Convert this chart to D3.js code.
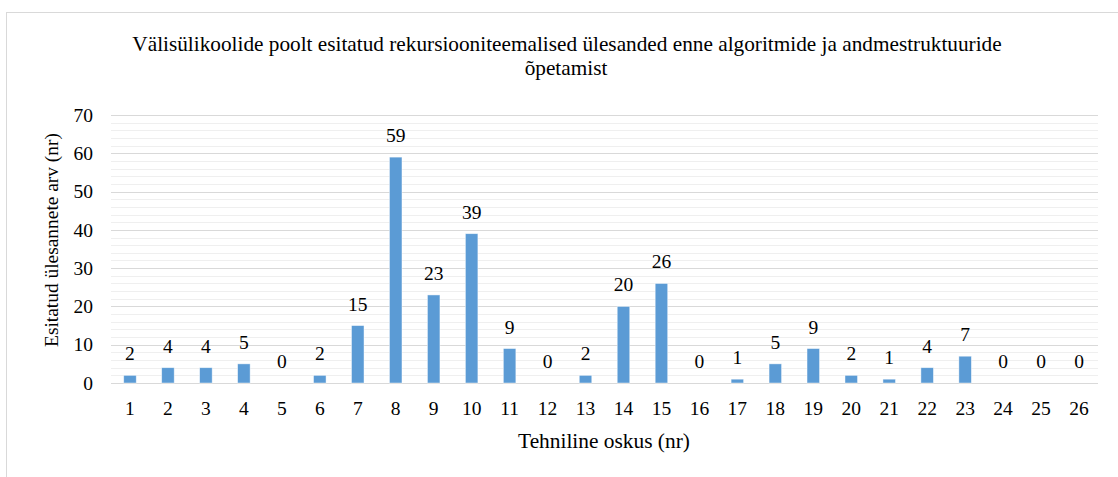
<!DOCTYPE html>
<html><head><meta charset="utf-8">
<script src="https://cdn.jsdelivr.net/npm/d3@7"></script>
<style>body{margin:0;background:#fff}svg{display:block}</style>
</head><body><div id="chart"></div>
<script>
const categories = ["1","2","3","4","5","6","7","8","9","10","11","12","13","14","15","16","17","18","19","20","21","22","23","24","25","26"];
const values = [2,4,4,5,0,2,15,59,23,39,9,0,2,20,26,0,1,5,9,2,1,4,7,0,0,0];
const yTicks = [0,10,20,30,40,50,60,70];
const titleLines = ["Välisülikoolide poolt esitatud rekursiooniteemalised ülesanded enne algoritmide ja andmestruktuuride","õpetamist"];
const xTitle = "Tehniline oskus (nr)";
const yTitle = "Esitatud ülesannete arv (nr)";

const FONT = '"Liberation Serif", "Times New Roman", serif';
const W = 1118, H = 477;
const svg = d3.select("#chart").append("svg").attr("width", W).attr("height", H)
  .style("font-family", FONT);
svg.append("rect").attr("x",6.5).attr("y",12.5).attr("width",W+10).attr("height",H+10)
  .attr("fill","#fff").attr("stroke","#d9d9d9").attr("stroke-width",1);

const x0 = 111, x1 = 1098, yTop = 115, yBot = 383;
const x = d3.scaleBand().domain(categories).range([x0,x1]).paddingInner(0.67).paddingOuter(0.335);
const y = d3.scaleLinear().domain([0,70]).range([yBot,yTop]);

function fit(sel, target){
  sel.style("font-size","20px");
  const w = sel.node().getComputedTextLength();
  sel.style("font-size", (20*target/w).toFixed(2)+"px");
}

// minor gridlines
const minor = d3.range(0,71,2).filter(v => v%10!==0);
svg.append("g").selectAll("line").data(minor).join("line")
  .attr("x1",x0).attr("x2",x1).attr("y1",d=>Math.round(y(d))+0.5).attr("y2",d=>Math.round(y(d))+0.5)
  .attr("stroke","#efefef").attr("stroke-width",1);
// major gridlines
svg.append("g").selectAll("line").data(yTicks).join("line")
  .attr("x1",x0).attr("x2",x1).attr("y1",d=>Math.round(y(d))+0.5).attr("y2",d=>Math.round(y(d))+0.5)
  .attr("stroke","#d9d9d9").attr("stroke-width",1.2);

// y axis labels
const yAxis = d3.axisLeft(y).tickValues(yTicks).tickSize(0).tickPadding(0);
const gy = svg.append("g").attr("transform",`translate(${x0-18},0)`).call(yAxis);
gy.attr("font-family",null).attr("font-size",null);
gy.select(".domain").remove();
gy.selectAll("text").style("font-family",FONT).style("font-size","19.5px").attr("fill","#000");

// x axis labels
const xAxis = d3.axisBottom(x).tickSize(0).tickPadding(0);
const gx = svg.append("g").attr("transform",`translate(0,${yBot+18})`).call(xAxis);
gx.attr("font-family",null).attr("font-size",null);
gx.select(".domain").remove();
gx.selectAll("text").style("font-family",FONT).style("font-size","19.5px").attr("fill","#000");

// bars
svg.append("g").selectAll("rect").data(values).join("rect")
  .attr("x",(d,i)=>x(categories[i])).attr("width",x.bandwidth())
  .attr("y",d=>y(d)).attr("height",d=>yBot-y(d))
  .attr("fill","#5b9bd5").attr("stroke","#ffffff").attr("stroke-opacity",0.6).attr("stroke-width",0.75);

// data labels
svg.append("g").selectAll("text").data(values).join("text")
  .attr("x",(d,i)=>x(categories[i])+x.bandwidth()/2).attr("y",d=>y(d)-15)
  .attr("text-anchor","middle").style("font-family",FONT).style("font-size","19.5px").attr("fill","#000").text(d=>d);

// title
const t1 = svg.append("text").attr("x",567).attr("y",51).attr("text-anchor","middle").attr("fill","#000").text(titleLines[0]);
fit(t1, 870);
const t2 = svg.append("text").attr("x",566).attr("y",75).attr("text-anchor","middle").attr("fill","#000").text(titleLines[1]);
t2.style("font-size", t1.style("font-size"));

// axis titles
const xt = svg.append("text").attr("x",604).attr("y",448).attr("text-anchor","middle").attr("fill","#000").text(xTitle);
fit(xt, 172);
const yt = svg.append("text").attr("transform",`translate(58,240) rotate(-90)`).attr("text-anchor","middle").attr("fill","#000").text(yTitle);
fit(yt, 214);
</script></body></html>
